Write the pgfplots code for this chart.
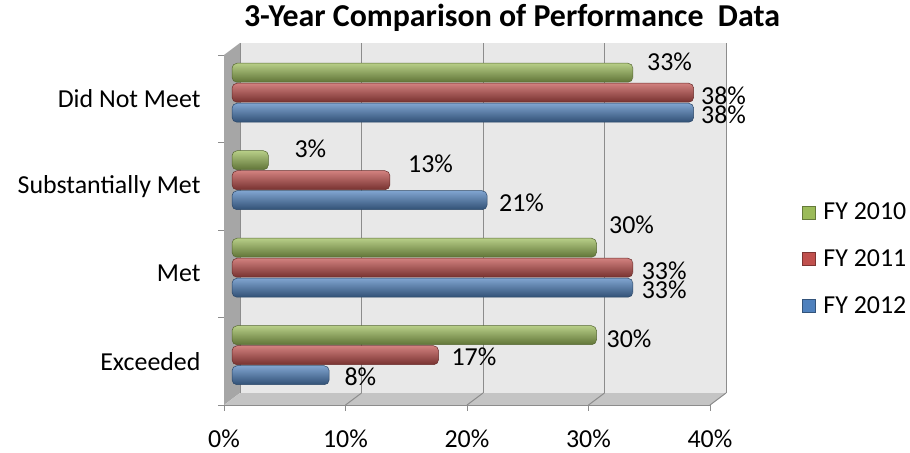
\documentclass[border=0pt]{standalone}
\usepackage{fontspec}
\setmainfont{Carlito}
\usepackage{pgfplots}
\pgfplotsset{compat=1.18}
\usepackage{pgfplotstable}

\definecolor{cg}{HTML}{9BBB59}
\definecolor{cr}{HTML}{C0504D}
\definecolor{cb}{HTML}{4F81BD}
\definecolor{wall}{HTML}{E8E8E8}
\definecolor{side}{HTML}{A6A6A6}
\definecolor{floorc}{HTML}{C4C4C4}
\definecolor{gridc}{HTML}{8C8C8C}

% y: 0=Exceeded, 1=Met, 2=Substantially Met, 3=Did Not Meet ; dx,dy = label offsets (bp)
\pgfplotstableread{
y x dx dy
0 30 10 -4
1 30 12.5 23
2 3 26 12
3 33 14 11
}\fyten
\pgfplotstableread{
y x dx dy
0 17 12.8 -2
1 33 8.6 -3
2 13 18 17
3 38 7.3 -3
}\fyeleven
\pgfplotstableread{
y x dx dy
0 8 15.2 -2
1 33 8.6 -2
2 21 11.8 -3
3 38 7.3 -2
}\fytwelve

\pgfplotsset{
  cyl/.style={forget plot, xshift=8bp, yshift=6bp, draw=#1!55!black, line width=0.5bp,
    rounded corners=5bp, top color=#1!72!white, middle color=#1!95!white, bottom color=#1!62!black},
}

\begin{document}
\begin{tikzpicture}[x=1bp,y=1bp]
\begin{axis}[
  at={(224bp,48bp)}, anchor=south west,
  scale only axis, width=486bp, height=350bp,
  xmin=0, xmax=40, ymin=-0.5, ymax=3.5,
  clip=false,
  axis x line*=bottom, axis y line*=left,
  axis line style={draw=gridc, line width=0.8bp},
  tick align=outside,
  xtick={0,10,20,30,40},
  xticklabel={\pgfmathprintnumber{\tick}\%},
  x tick style={draw=gridc, line width=0.8bp},
  major tick length=6bp,
  ytick={0,1,2,3},
  yticklabels={Exceeded, Met, Substantially Met, Did Not Meet},
  y tick style={draw=none},
  extra y ticks={-0.5,0.5,1.5,2.5,3.5},
  extra y tick labels={},
  extra y tick style={y tick style={draw=gridc, line width=0.8bp}},
  /pgf/number format/assume math mode=true,
  every tick label/.append style={font=\fontsize{26}{30}\selectfont, text=black},
  xticklabel style={yshift=-15bp},
  yticklabel style={xshift=-14bp},
  xbar, bar width=19bp,
  point meta=x,
  nodes near coords={\pgfmathprintnumber{\pgfplotspointmeta}\%},
  visualization depends on={\thisrow{dx} \as \dx},
  visualization depends on={\thisrow{dy} \as \dy},
  nodes near coords style={anchor=west, inner sep=0pt, xshift=\dx pt, yshift=\dy pt,
     font=\fontsize{26}{30}\selectfont, text=black},
  legend style={at={(axis description cs:1.189,0.417)}, anchor=west,
     draw=none, fill=none, inner sep=0pt, row sep=24.5bp,
     font=\fontsize{26}{30}\selectfont, cells={anchor=west},
     /tikz/every odd column/.append style={column sep=6bp}},
  legend image code/.code={\draw[#1] (0bp,-6.5bp) rectangle (13bp,6.5bp);},
]
% 3-D walls
\fill[side] (axis cs:0,-0.5) -- (axis cs:0,3.5) -- ([shift={(16bp,12bp)}]axis cs:0,3.5) -- ([shift={(16bp,12bp)}]axis cs:0,-0.5) -- cycle;
\fill[floorc] (axis cs:0,-0.5) -- (axis cs:40,-0.5) -- ([shift={(16bp,12bp)}]axis cs:40,-0.5) -- ([shift={(16bp,12bp)}]axis cs:0,-0.5) -- cycle;
\fill[wall] ([shift={(16bp,12bp)}]axis cs:0,-0.5) rectangle ([shift={(16bp,12bp)}]axis cs:40,3.5);
\pgfplotsinvokeforeach{10,20,30,40}{
  \draw[gridc, line width=1bp] ([shift={(16bp,12bp)}]axis cs:#1,-0.5) -- ([shift={(16bp,12bp)}]axis cs:#1,3.5);
  \draw[gridc, line width=1bp] (axis cs:#1,-0.5) -- ([shift={(16bp,12bp)}]axis cs:#1,-0.5);
}
\draw[gridc, line width=0.8bp] ([shift={(16bp,12bp)}]axis cs:0,-0.5) -- ([shift={(16bp,12bp)}]axis cs:0,3.5);

\addlegendimage{fill=cg, draw=cg!65!black}
\addlegendentry{FY 2010}
\addlegendimage{fill=cr, draw=cr!65!black}
\addlegendentry{FY 2011}
\addlegendimage{fill=cb, draw=cb!65!black}
\addlegendentry{FY 2012}

% one plot per bar so that each bar gets its own cylinder shading
\pgfplotsinvokeforeach{-0.2:0.2, 0.8:1.2, 1.8:2.2, 2.8:3.2}{
  \addplot[cyl=cg, bar shift=20bp, restrict y to domain=#1] table[x=x, y=y] {\fyten};
  \addplot[cyl=cr, bar shift=0bp, restrict y to domain=#1] table[x=x, y=y] {\fyeleven};
  \addplot[cyl=cb, bar shift=-20bp, restrict y to domain=#1] table[x=x, y=y] {\fytwelve};
}
\end{axis}
\node[font=\bfseries\fontsize{32}{36}\selectfont, anchor=center] at (512bp,435bp) {3-Year Comparison of Performance~~Data};
\pgfresetboundingbox
\path (0,0) rectangle (910bp,453bp);
\end{tikzpicture}
\end{document}
